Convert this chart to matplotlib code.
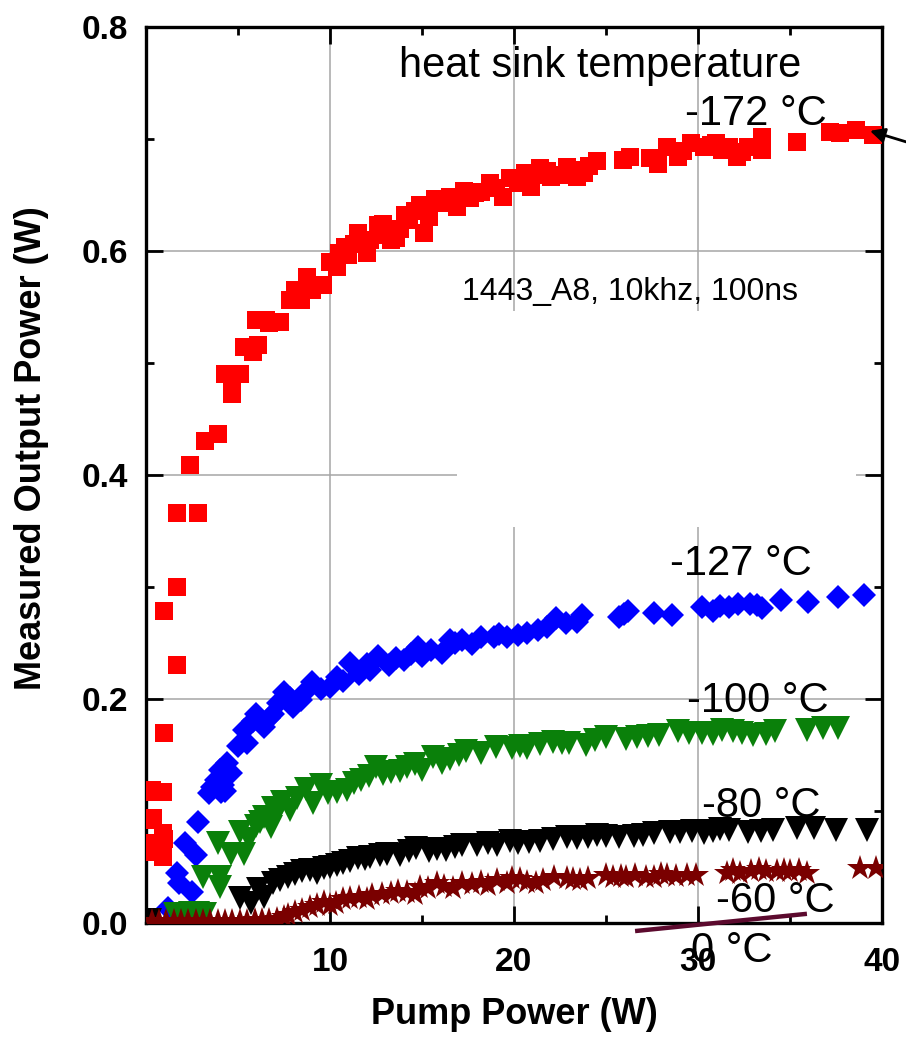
import matplotlib.pyplot as plt
from matplotlib.patches import Rectangle

plt.rcParams['font.family'] = ['Liberation Sans', 'DejaVu Sans']

# -172 C (red squares)
red_x = [0.2, 0.3, 0.4, 0.4, 0.4, 0.4, 0.9, 0.9, 0.9, 1.0, 1.0, 0.9, 1.7, 1.0, 1.7, 1.7, 2.8,
         2.4, 3.2, 3.9, 4.3, 4.7, 4.7, 5.1, 5.3, 5.8, 6.0, 6.5, 6.1, 6.7, 7.3, 7.8, 8.1, 8.4,
         8.75, 9.0, 9.6, 10.0, 10.4, 10.5, 11.0, 11.5, 12.0, 12.2, 12.6, 13.0, 13.3, 13.8,
         14.1, 14.3, 14.9, 15.1, 15.7, 16.1, 16.9, 17.3, 17.9, 18.2, 18.7, 19.4, 19.8, 20.2,
         20.6, 20.9, 21.4, 22.0, 22.5, 22.9, 23.4, 23.8, 24.5, 25.9, 26.3, 27.4, 27.8, 28.3,
         28.9, 29.6, 30.3, 30.7, 31.0, 31.7, 32.1, 32.7, 33.5, 33.5, 35.4, 37.2, 37.7, 38.6, 39.5,
         10.8, 11.3, 12.9, 13.6, 14.6, 15.4, 16.5, 17.6, 19.0, 21.1, 21.8, 23.1, 24.1, 29.2,
         31.3, 32.4]
red_y = [0.092, 0.119, 0.117, 0.094, 0.071, 0.063, 0.117, 0.067, 0.059, 0.075, 0.170, 0.080,
         0.230, 0.279, 0.300, 0.366, 0.366, 0.409, 0.430, 0.437, 0.490, 0.472, 0.481, 0.490,
         0.514, 0.510, 0.538, 0.538, 0.516, 0.536, 0.537, 0.556, 0.565, 0.556, 0.577, 0.565,
         0.570, 0.590, 0.586, 0.598, 0.596, 0.616, 0.598, 0.610, 0.623, 0.614, 0.610, 0.620,
         0.632, 0.628, 0.641, 0.616, 0.646, 0.643, 0.639, 0.654, 0.652, 0.653, 0.661, 0.648,
         0.665, 0.661, 0.670, 0.657, 0.674, 0.666, 0.668, 0.675, 0.666, 0.670, 0.680, 0.681,
         0.684, 0.683, 0.678, 0.693, 0.684, 0.696, 0.693, 0.695, 0.696, 0.693, 0.684, 0.693,
         0.702, 0.690, 0.697, 0.706, 0.705, 0.708, 0.704,
         0.604, 0.606, 0.624, 0.612, 0.636, 0.630, 0.648, 0.647, 0.656, 0.668, 0.671, 0.672,
         0.676, 0.689, 0.690, 0.688]

# -127 C (blue diamonds)
blue_x = [0.3, 1.2, 1.7, 1.8, 2.5, 2.1, 2.7, 2.8, 3.4, 3.6, 4.1, 4.0, 4.2, 4.4, 4.6, 5.3, 5.5,
          6.0, 6.4, 6.9, 7.5, 8.0, 8.4, 9.0, 10.0, 10.4, 11.1, 12.2, 12.6, 13.2, 14.0, 14.8,
          15.0, 16.1, 16.5, 17.2, 18.2, 18.9, 19.6, 20.7, 21.8, 22.3, 23.4, 23.7, 25.7, 26.2,
          27.6, 28.6, 30.2, 30.8, 31.7, 32.2, 32.8, 33.5, 34.5, 36.0, 37.6, 39.0,
          3.8, 4.3, 5.0, 5.8, 6.7, 7.2, 7.8, 8.7, 9.5, 10.7, 11.6, 12.0, 13.6, 14.4, 15.5,
          16.8, 17.7, 19.2, 20.2, 21.3, 22.8, 26.0, 31.2, 33.2]
blue_y = [0.002, 0.013, 0.045, 0.036, 0.028, 0.071, 0.061, 0.090, 0.116, 0.121, 0.117, 0.137,
          0.123, 0.143, 0.134, 0.172, 0.161, 0.187, 0.175, 0.187, 0.206, 0.193, 0.199, 0.215,
          0.211, 0.220, 0.232, 0.226, 0.238, 0.230, 0.235, 0.246, 0.238, 0.241, 0.253, 0.253,
          0.255, 0.255, 0.255, 0.259, 0.264, 0.272, 0.269, 0.275, 0.273, 0.279, 0.277, 0.275,
          0.282, 0.279, 0.282, 0.285, 0.285, 0.281, 0.288, 0.287, 0.291, 0.293,
          0.128, 0.118, 0.158, 0.180, 0.183, 0.196, 0.201, 0.207, 0.209, 0.216, 0.222, 0.231,
          0.237, 0.240, 0.244, 0.250, 0.249, 0.258, 0.257, 0.262, 0.268, 0.276, 0.283, 0.284]

# -100 C (green down triangles)
green_x = [1.6, 2.0, 2.4, 2.8, 3.2, 3.1, 4.0, 4.0, 3.9, 4.6, 5.3, 5.1, 6.0, 6.4, 6.8, 6.9, 7.4,
           8.2, 8.7, 9.1, 9.5, 10.4, 10.9, 11.7, 12.5, 13.3, 14.2, 15.0, 15.6, 16.5, 17.4, 19.0,
           19.9, 20.7, 22.1, 23.0, 23.9, 25.0, 26.7, 27.9, 28.9, 30.8, 31.9, 33.0, 33.7, 35.9,
           36.8, 37.6,
           5.6, 6.2, 7.1, 7.8, 9.9, 11.3, 12.1, 12.9, 13.8, 14.6, 16.1, 17.0, 18.2, 20.3, 21.4,
           22.6, 24.4, 26.1, 27.3, 29.5, 30.2, 31.3, 32.4, 34.2]
green_y = [0.008, 0.008, 0.009, 0.009, 0.008, 0.041, 0.041, 0.032, 0.071, 0.062, 0.062, 0.081,
           0.087, 0.095, 0.086, 0.103, 0.108, 0.112, 0.120, 0.107, 0.123, 0.117, 0.119, 0.128,
           0.139, 0.135, 0.139, 0.137, 0.148, 0.146, 0.154, 0.157, 0.156, 0.156, 0.162, 0.161,
           0.159, 0.166, 0.166, 0.168, 0.171, 0.169, 0.171, 0.168, 0.169, 0.172, 0.174, 0.174,
           0.075, 0.090, 0.098, 0.101, 0.116, 0.125, 0.131, 0.133, 0.136, 0.142, 0.143, 0.150,
           0.152, 0.158, 0.160, 0.161, 0.163, 0.164, 0.167, 0.170, 0.170, 0.172, 0.170, 0.171]

# -80 C (black down triangles)
black_x = [0.2, 5.1, 5.7, 6.4, 6.9, 7.7, 8.5, 9.3, 10.0, 10.7, 11.5, 12.2, 13.1, 13.8, 14.7,
           15.4, 16.3, 17.2, 18.0, 19.1, 19.8, 20.2, 21.4, 22.9, 24.0, 25.0, 26.5, 27.6, 28.5,
           29.0, 30.3, 31.7, 32.7, 34.1, 35.4, 36.3, 37.5, 39.2,
           6.1, 7.3, 8.1, 8.9, 9.7, 10.4, 11.1, 11.9, 12.7, 14.3, 15.8, 16.8, 18.6, 20.8, 22.1,
           23.4, 24.5, 25.7, 27.0, 29.7, 30.8, 31.2, 33.4]
black_y = [0.003, 0.022, 0.018, 0.023, 0.036, 0.041, 0.046, 0.045, 0.050, 0.054, 0.058, 0.059,
           0.062, 0.061, 0.067, 0.064, 0.065, 0.070, 0.070, 0.070, 0.073, 0.071, 0.073, 0.077,
           0.077, 0.078, 0.078, 0.080, 0.081, 0.081, 0.080, 0.083, 0.081, 0.083, 0.085, 0.085,
           0.083, 0.083,
           0.030, 0.038, 0.044, 0.047, 0.049, 0.052, 0.055, 0.057, 0.061, 0.064, 0.066, 0.068,
           0.071, 0.072, 0.075, 0.076, 0.079, 0.077, 0.079, 0.082, 0.082, 0.084, 0.082]

# -60 C (dark red stars)
maroon_x = [0.3, 0.7, 1.1, 1.5, 1.9, 2.3, 2.7, 3.1, 3.5, 3.9, 4.3, 4.7, 5.1, 5.5, 5.9, 6.3,
            6.7, 7.1, 7.5, 7.7, 8.5, 9.3, 10.0, 10.7, 11.6, 12.3, 13.3, 14.2, 14.9, 15.8, 16.7,
            17.2, 18.2, 19.1, 19.6, 19.9, 20.7, 21.6, 22.9, 23.6, 25.0, 26.1, 27.2, 28.3, 29.4,
            29.9, 31.6, 32.3, 33.7, 34.3, 35.0, 35.9, 38.8, 39.7,
            8.1, 8.9, 9.7, 10.3, 11.1, 12.0, 12.8, 13.7, 14.6, 15.3, 16.2, 17.7, 18.6, 20.3,
            21.2, 22.2, 23.2, 24.0, 25.4, 25.8, 26.6, 27.6, 28.0, 28.8, 31.9, 32.9, 33.3, 34.7,
            35.5]
maroon_y = [0.002, 0.002, 0.002, 0.002, 0.002, 0.002, 0.002, 0.002, 0.002, 0.002, 0.002,
            0.002, 0.002, 0.002, 0.003, 0.003, 0.003, 0.004, 0.005, 0.007, 0.012, 0.016, 0.016,
            0.021, 0.023, 0.025, 0.027, 0.028, 0.032, 0.036, 0.031, 0.036, 0.037, 0.038, 0.036,
            0.040, 0.037, 0.038, 0.040, 0.038, 0.043, 0.041, 0.041, 0.043, 0.043, 0.043, 0.045,
            0.045, 0.046, 0.046, 0.046, 0.045, 0.049, 0.049,
            0.010, 0.014, 0.019, 0.018, 0.022, 0.021, 0.026, 0.029, 0.026, 0.031, 0.033, 0.035,
            0.034, 0.039, 0.036, 0.041, 0.039, 0.040, 0.041, 0.042, 0.043, 0.041, 0.044, 0.042,
            0.047, 0.046, 0.048, 0.047, 0.047]

# 0 C stray line
zero_x = [26.7, 35.8]
zero_y = [-0.007, 0.008]

fig = plt.figure(figsize=(9.06, 10.37), dpi=100)
ax = fig.add_axes([146 / 906, 1 - 923 / 1037, 736 / 906, 896 / 1037])

ax.set_axisbelow(True)
ax.grid(True, which='major', color='#a6a6a6', lw=1.1)
# blank patch hiding the grid in the middle right
ax.add_patch(Rectangle((16.9, 0.354), 21.7, 0.192, facecolor='white', edgecolor='none', zorder=1))

ax.plot(red_x, red_y, 's', color='#ff0000', ms=13, mew=0, zorder=3)
ax.plot(blue_x, blue_y, 'D', color='#0000ff', ms=12.5, mew=0, zorder=3)
ax.plot(green_x, green_y, 'v', color='#0a800a', ms=17, mew=0, zorder=3)
ax.plot(black_x, black_y, 'v', color='black', ms=17, mew=0, zorder=3)
ax.plot(maroon_x, maroon_y, '*', color='#7a0000', ms=19, mew=0, zorder=3)
ax.plot(zero_x, zero_y, '-', color='#5c0a2e', lw=3.2, clip_on=False, zorder=4)

ax.set_xlim(0, 40)
ax.set_ylim(0, 0.8)
ax.set_xticks([0, 10, 20, 30, 40])
ax.set_xticklabels(['', '10', '20', '30', '40'])
ax.set_xticks([5, 15, 25, 35], minor=True)
ax.set_yticks([0.0, 0.2, 0.4, 0.6, 0.8])
ax.set_yticklabels(['0.0', '0.2', '0.4', '0.6', '0.8'])
ax.set_yticks([0.1, 0.3, 0.5, 0.7], minor=True)
ax.tick_params(which='both', direction='in', top=True, right=True, width=2)
ax.tick_params(which='major', length=12, labelsize=24)
ax.tick_params(which='minor', length=6)
ax.tick_params(axis='x', pad=17)
ax.tick_params(axis='y', pad=13)
for lab in ax.get_xticklabels() + ax.get_yticklabels():
    lab.set_fontweight('bold')
for sp in ax.spines.values():
    sp.set_linewidth(2.4)

ax.set_xlabel('Pump Power (W)', fontsize=26, fontweight='bold', labelpad=14)
ax.set_ylabel('Measured Output Power (W)', fontsize=26, fontweight='bold')
ax.yaxis.set_label_coords(-114 / 736, 0.53)
ax.yaxis.label.set_va('center')

txt = dict(fontsize=30, ha='left', va='baseline', zorder=5, clip_on=False)
ax.text(13.75, 0.755, 'heat sink temperature', **txt)
ax.text(29.3, 0.7125, '-172 °C', **txt)
ax.text(28.5, 0.311, '-127 °C', **txt)
ax.text(29.4, 0.188, '-100 °C', **txt)
ax.text(30.2, 0.095, '-80 °C', **txt)
ax.text(31.0, 0.010, '-60 °C', **txt)
ax.text(29.6, -0.035, '0 °C', **txt)
ax.text(17.2, 0.556, '1443_A8, 10khz, 100ns', fontsize=23, ha='left', va='baseline', zorder=5)

ax.annotate('', xy=(39.2, 0.708), xytext=(42.8, 0.690), annotation_clip=False,
            arrowprops=dict(arrowstyle='-|>', color='black', lw=2, mutation_scale=22))

fig.savefig('out.png', dpi=100)
